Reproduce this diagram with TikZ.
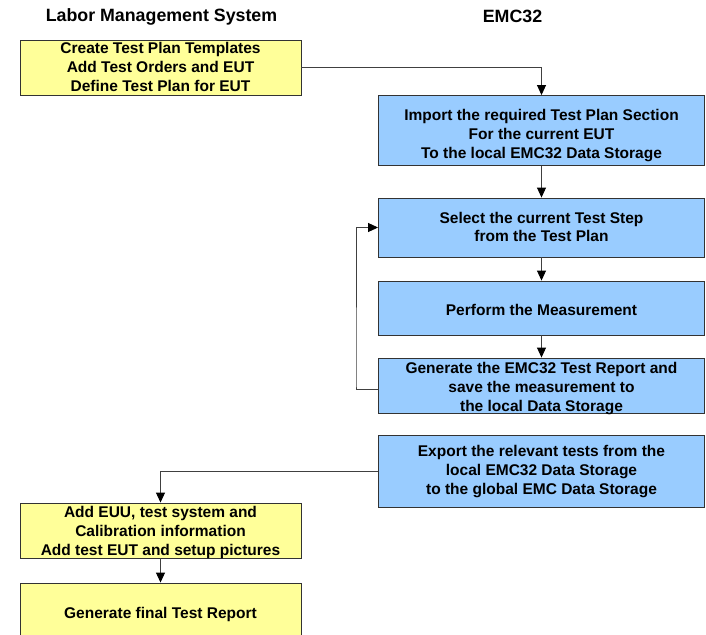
\documentclass[tikz,border=0pt]{standalone}
\usepackage{fontspec}
\setmainfont{Liberation Sans}
\usetikzlibrary{arrows.meta}
\definecolor{lmsyellow}{HTML}{FFFF99}
\definecolor{emcblue}{HTML}{99CCFF}
\definecolor{edgegray}{HTML}{333333}
\definecolor{linegray}{HTML}{404040}
\tikzset{
  boxbase/.style={draw=edgegray, line width=0.9pt, inner sep=0pt},
  ybox/.style={boxbase, fill=lmsyellow, minimum width=281pt},
  bbox/.style={boxbase, fill=emcblue, minimum width=326pt},
  boxtext/.style={inner sep=0pt, align=center, font=\fontsize{15.5}{18.9}\selectfont\bfseries},
  header/.style={font=\fontsize{17.8}{22}\selectfont\bfseries},
  conn/.style={draw=linegray, line width=0.9pt, -{Triangle[length=10pt,width=9pt,color=black]}}
}
\begin{document}
\begin{tikzpicture}[x=1pt,y=-1pt]
\useasboundingbox (0,0) rectangle (706,634);
\clip (0,0) rectangle (706,634);
\fill[white] (0,0) rectangle (706,634);
\node[header] (h1) at (161.5,16.5) {Labor Management System};
\node[header] (h2) at (512.5,16.5) {EMC32};
% boxes
\node[ybox, minimum height=55pt] (y1) at (160.5,67.5) {};
\node[bbox, minimum height=70pt] (b1) at (541.5,130.5) {};
\node[bbox, minimum height=59pt] (b2) at (541.5,227.5) {};
\node[bbox, minimum height=54pt] (b3) at (541.5,308) {};
\node[bbox, minimum height=55pt] (b4) at (541.5,385.5) {};
\node[bbox, minimum height=72pt] (b5) at (541.5,471) {};
\node[ybox, minimum height=55pt] (y2) at (160.5,530.5) {};
\node[ybox, minimum height=58pt] (y3) at (160.5,612) {};
% texts
\node[boxtext] (y1t) at ([yshift=0.5pt]y1.center) {Create Test Plan Templates\\Add Test Orders and EUT\\Define Test Plan for EUT};
\node[boxtext] (b1t) at ([yshift=-5pt]b1.center) {Import the required Test Plan Section\\For the current EUT\\To the local EMC32 Data Storage};
\node[boxtext] (b2t) at ([yshift=0.5pt]b2.center) {Select the current Test Step\\from the Test Plan};
\node[boxtext] (b3t) at ([yshift=-2pt]b3.center) {Perform the Measurement};
\node[boxtext] (b4t) at ([yshift=-3pt]b4.center) {Generate the EMC32 Test Report and\\save the measurement to\\the local Data Storage};
\node[boxtext] (b5t) at ([yshift=-0.5pt]b5.center) {Export the relevant tests from the\\local EMC32 Data Storage\\to the global EMC Data Storage};
\node[boxtext] (y2t) at ([yshift=-2pt]y2.center) {Add EUU, test system and\\Calibration information\\Add test EUT and setup pictures};
\node[boxtext] (y3t) at ([yshift=-2pt]y3.center) {Generate final Test Report};
% connectors
\coordinate (loopx) at (356,0);
\draw[conn] (y1.east) -| (b1.north);
\draw[conn] (b1) -- (b2);
\draw[conn] (b2) -- (b3);
\draw[conn] (b3) -- (b4);
\draw[conn] ([yshift=-3.5pt]b4.west) -| (loopx |- b4.west) -- (loopx |- b2.west) -- (b2.west);
\draw[conn] (b5.west) -| (y2.north);
\draw[conn] (y2) -- (y3);
\end{tikzpicture}
\end{document}
